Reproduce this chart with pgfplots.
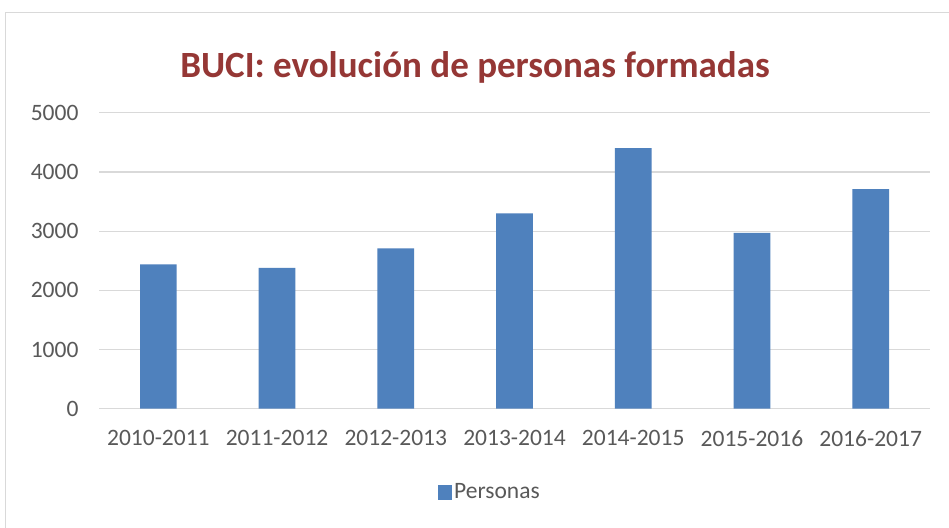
\documentclass[border=0pt]{standalone}
\usepackage{fontspec}
\setmainfont{Carlito}
\usepackage{pgfplots}
\pgfplotsset{compat=1.18}
\definecolor{barblue}{HTML}{4F81BD}
\definecolor{titlered}{HTML}{953735}
\definecolor{ticktext}{HTML}{595959}
\definecolor{gridgray}{HTML}{D9D9D9}
\begin{document}
\begin{tikzpicture}
\path[use as bounding box] (0,0) rectangle (949pt,-527pt);
\fill[white] (0,0) rectangle (949pt,-527pt);
\draw[gridgray, line width=1pt] (5pt,-1000pt) -- (5pt,-13pt) -- (1000pt,-13pt);
\node[anchor=base, text=titlered, font=\fontsize{37}{44}\selectfont\bfseries] at (475pt,-77pt) {BUCI: evolución de personas formadas};
\begin{axis}[
  at={(99pt,-408.7pt)}, anchor=south west,
  scale only axis, width=831pt, height=296pt,
  xmin=-0.5, xmax=6.5, ymin=0, ymax=5000,
  ytick={0,1000,2000,3000,4000,5000},
  xtick=data,
  xticklabels={2010-2011,2011-2012,2012-2013,2013-2014,2014-2015,2015-2016,2016-2017},
  axis line style={draw=none},
  major tick length=0pt,
  ymajorgrids, grid style={gridgray, line width=1.2pt},
  tick label style={text=ticktext, font=\fontsize{23.5}{28}\selectfont},
  /pgf/number format/assume math mode=true,
  /pgf/number format/1000 sep={},
  yticklabel style={xshift=-17pt},
  xticklabel style={yshift=-18pt},
  legend style={at={(0.4705,-0.2814)}, anchor=center, draw=none, fill=none,
    font=\fontsize{23.5}{28}\selectfont, text=ticktext,
    legend cell align=left, inner sep=0pt},
  legend image code/.code={\fill[barblue] (0pt,-7.5pt) rectangle (14pt,7.5pt);},
]
\addplot[ybar, bar width=36.7pt, fill=barblue, draw=none] coordinates {
(0,2440) (1,2380) (2,2710) (3,3300) (4,4400) (5,2970) (6,3710)};
\addlegendentry{Personas}
\end{axis}
\end{tikzpicture}
\end{document}
